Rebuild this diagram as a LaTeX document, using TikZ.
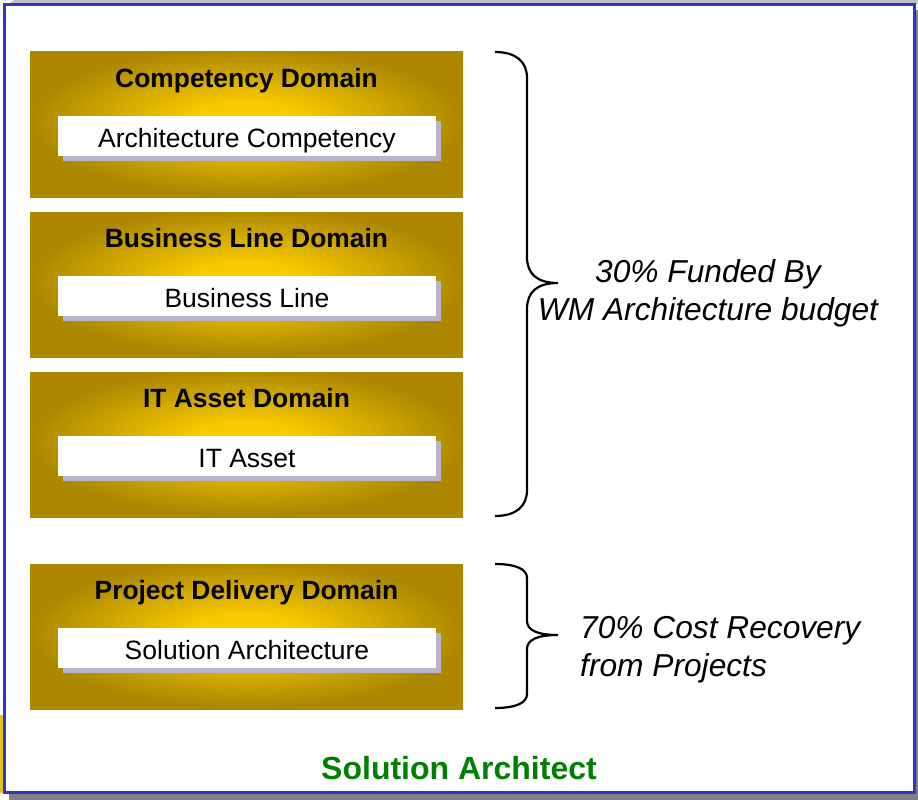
\documentclass[tikz,border=0pt]{standalone}
\usepackage{fontspec}
\setmainfont{Liberation Sans}
\definecolor{goldc}{RGB}{248,202,0}
\definecolor{golde}{RGB}{172,136,0}
\definecolor{frameblue}{RGB}{51,51,204}
\definecolor{shadowgray}{RGB}{128,128,128}
\definecolor{topgray}{RGB}{192,192,192}
\definecolor{boxshadow}{RGB}{189,178,204}
\definecolor{titlegreen}{RGB}{0,128,0}
\definecolor{edgeyellow}{RGB}{224,192,32}
\pgfdeclareradialshading{goldshade}{\pgfpoint{0bp}{2bp}}{color(0bp)=(goldc); color(6bp)=(goldc); color(25bp)=(golde); color(50bp)=(golde)}
\tikzset{
  domainbox/.style={shading=goldshade, draw=none},
  domtitle/.style={font=\fontsize{26.4}{30}\selectfont\bfseries, text=black, inner sep=0pt, anchor=base},
  innerbox/.style={fill=white, draw=none, minimum width=378pt, minimum height=40pt, inner sep=0pt},
  innertext/.style={font=\fontsize{26.5}{30}\selectfont, inner sep=0pt, anchor=base},
  innershadow/.style={fill=boxshadow, draw=none},
  bracepath/.style={line width=2.2pt, black},
  notetext/.style={font=\fontsize{31.7}{38}\selectfont\itshape, inner sep=0pt}
}
\newcommand{\domainunit}[4]{%
  % #1 name, #2 top y, #3 title, #4 inner text
  \shade[domainbox] (30,#2) rectangle (463,#2+145);
  \fill[innershadow] (63,#2+69) rectangle (441,#2+109);
  \node[domtitle] (#1t) at (246.5,#2+35) {#3};
  \node[innerbox] (#1b) at (247,#2+84) {};
  \node[innertext] (#1x) at (247,#2+95) {#4};
}
\newcommand{\mybrace}[5]{%
  % #1 top, #2 tip, #3 bottom, #4 curve size, #5 name
  \coordinate (#5) at (558,#2);
  \draw[bracepath] (495,#1) .. controls (517,#1) and (527,#1+#4*0.4) .. (527,#1+#4)
    -- (527,#2-#4) .. controls (527,#2-#4*0.35) and (537,#2) .. (#5)
    .. controls (537,#2) and (527,#2+#4*0.35) .. (527,#2+#4)
    -- (527,#3-#4) .. controls (527,#3-#4*0.4) and (517,#3) .. (495,#3);
}
\begin{document}
\begin{tikzpicture}[x=1pt,y=-1pt]
\useasboundingbox (0,0) rectangle (918,800);
% background pieces behind the frame
\fill[topgray] (8,4.5) -- (14,0) -- (918,0) -- (918,4.5) -- cycle;
\fill[edgeyellow] (0,715) rectangle (4,793);
\fill[shadowgray] (9,10) rectangle (918,800);
\draw[frameblue, line width=3pt, fill=white] (4,4.5) rectangle (914.5,792.5);
% domain units
\domainunit{comp}{52}{Competency Domain}{Architecture Competency}
\domainunit{bus}{212}{Business Line Domain}{Business Line}
\domainunit{ita}{372}{IT Asset Domain}{IT Asset}
\domainunit{proj}{564}{Project Delivery Domain}{Solution Architecture}
% braces
\mybrace{52}{283}{516}{26}{tipA}
\mybrace{564}{635}{708}{14}{tipB}
% notes
\node[notetext, align=center] (noteA) at (708,293) {30\% Funded By\\WM Architecture budget};
\node[notetext, align=left, anchor=west] (noteB) at (580,650) {70\% Cost Recovery\\from Projects};
% footer
\node[font=\fontsize{32}{36}\selectfont\bfseries, text=titlegreen, inner sep=0pt] (footer) at (459,768) {Solution Architect};
\end{tikzpicture}
\end{document}
